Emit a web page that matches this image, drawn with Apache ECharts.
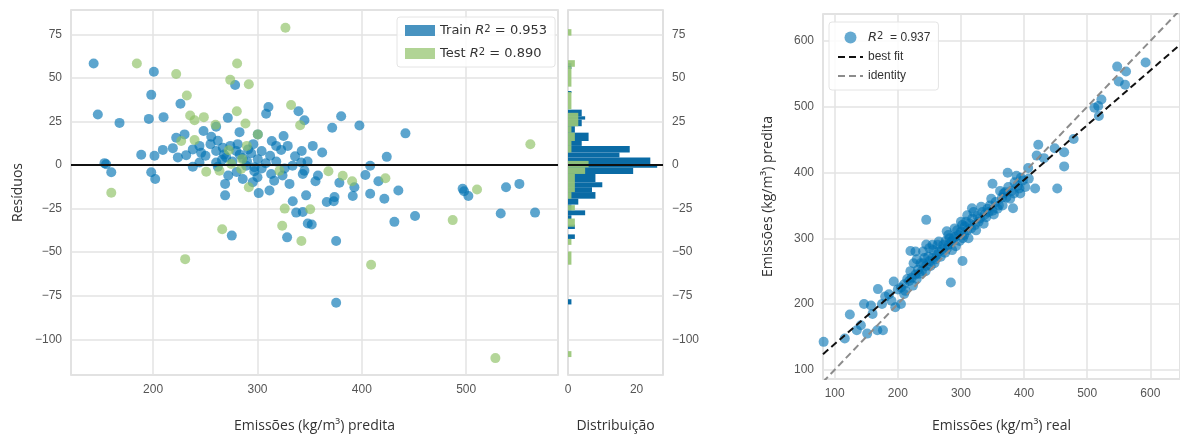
<!DOCTYPE html>
<html>
<head>
<meta charset="utf-8">
<script src="https://cdn.jsdelivr.net/npm/echarts@6/dist/echarts.min.js"></script>
<style>
  html, body { margin: 0; padding: 0; background: #fff; }
  #chart { width: 1180px; height: 438px; }
</style>
</head>
<body>
<div id="chart"></div>
<script>
// residuos (predito, residuo) - treino
const trainPoints = [
  [143, 58.3], [200.7, 53.6], [278.6, 46], [198.2, 40.3], [226.2, 35.2], [147, 29], [167.8, 24.2], [195.9, 26.5],
  [210, 27.5], [271.6, 27.1], [310.5, 33.3], [308.3, 29.5], [339.3, 30.9], [345, 25.7], [260.4, 22], [248.3, 19.5],
  [255.7, 16.3], [230.1, 17.6], [222.1, 15.7], [282.8, 18.9], [300.3, 17.6], [313.7, 13.8], [325, 16.7], [329, 11],
  [317.9, 11], [342.4, 8.1], [188.6, 5.9], [201.3, 5.3], [209.3, 8.7], [218.9, 9.7], [231.7, 5.7], [223.7, 4.4],
  [244.4, 11], [250.2, 5.3], [260.4, 8.1], [266.8, 10], [279.6, 8.1], [294, 6.8], [300.3, 3.4], [312.1, 5.3],
  [322.7, 8.7], [153.4, 1.1], [155, 0.5], [159.9, -4.1], [198.2, -4.1], [202, -8], [244.4, 1.5], [260.4, 1.5],
  [270, 4.4], [289.2, -0.4], [297.1, -1.3], [297, -3.5], [313.1, -5.1], [333.6, -0.4], [341.9, 1.5], [343.4, -5.1],
  [285.9, -8], [295.5, -9.8], [269, -10.8], [269, -17.4], [301.2, -16.1], [311.5, -14.6], [330.7, -10.8], [346.6, -17.4],
  [333.8, -20.8], [337.1, -27.3], [343.4, -26.9], [348.2, -33.5], [275.4, -40.5], [328.4, -41.5], [380.2, 28], [371.6, 21.4],
  [397.7, 22.7], [441.8, 18.2], [362, 7.2], [423.9, 4.7], [408, -0.4], [345, -3.2], [403.4, -5.7], [415.9, -9.3],
  [355.6, -9.3], [378.5, -10.2], [392.9, -12.7], [435, -14.6], [496.6, -13.6], [498, -15], [538.2, -12.7], [551, -10.8],
  [366.4, -21.2], [373.1, -20.8], [373.8, -18.4], [391.3, -17.8], [408, -16.5], [421.6, -19.3], [502.1, -17.8], [352, -34.1],
  [375.4, -43.6], [431.2, -32.6], [451, -29.2], [533.1, -27.8], [566, -27.3], [375.4, -79],
  [255, 12], [262, 14], [268, 6], [274, 11], [281, 12], [286, 4], [291, 9], [296, 12], [304, 8], [308, 1],
  [262, -1], [266, 3], [276, 2], [283, 6], [290, 2], [304, -2], [318, 2], [326, -2], [246, 7], [238, 9],
  [272, -6], [280, -4], [300, -7], [316, -9], [324, -6], [336, 5], [348, 2], [353, 11], [358, -6], [238, -1]
];

// residuos (predito, residuo) - teste
const testPoints = [
  [184.4, 58.3], [222.1, 52.3], [273.9, 48.9], [291.7, 46.4], [280.5, 58.3], [326.8, 78.8], [232.3, 39.9], [235.5, 28.4],
  [239.7, 25.7], [248.6, 27.5], [280.2, 30.9], [288.5, 23.9], [332.2, 34.5], [340.9, 22.9], [259.8, 23.1], [226.9, 13.8],
  [239.7, 14.4], [300.3, 17.6], [272.5, 8.5], [289.8, 11], [159.9, -15.9], [250.9, -3.8], [263.6, -3.2], [274.8, 0.6],
  [285.3, 3.4], [284.4, -2.3], [321.1, -3.2], [291.7, -12.7], [326.1, -25], [266.2, -36.8], [323.7, -34.8], [342.1, -43.6],
  [230.7, -54], [561.5, 11.9], [368, -3.6], [381.7, -6.1], [390.7, -9.3], [422.6, -7.6], [510.4, -14], [350.5, -25.4],
  [487.1, -31.6], [408.9, -57.2], [528, -110.8]
];

// histograma: [inicio, fim, contagem]
const trainHist = [
  [-80, -77, 1], [-42.4, -39.8, 2], [-36.7, -34.2, 2], [-31, -28.8, 1], [-28.8, -26, 5], [-26, -22.7, 1],
  [-22.7, -19.3, 3], [-19.3, -15.5, 8], [-15.5, -12.7, 7], [-12.7, -9.8, 10], [-9.8, -5.1, 8], [-5.1, -1.5, 19],
  [-1.5, 0.5, 26], [0.5, 4.4, 24], [4.4, 7.2, 15], [7.2, 11, 18], [11, 13.8, 4], [13.8, 18.6, 6],
  [18.6, 22.3, 2], [22.3, 26.1, 4], [26.1, 28, 5], [28, 31.8, 4], [41.3, 42.5, 1], [55.1, 58.5, 1]
];
const testHist = [
  [-110.2, -106.8, 1], [-57.2, -49.6, 1], [-45.8, -42.4, 1], [-35.4, -30.7, 2], [-26, -23, 2], [-19.3, -15.5, 1],
  [-15.5, -5.1, 2], [-5.1, -1.3, 5], [-1.3, 2.4, 6], [7.2, 11, 1], [11, 13.8, 1], [13.8, 18.6, 2],
  [18.6, 22.3, 1], [22.3, 30, 3], [32, 42, 1], [45, 56.4, 1], [56.4, 60.2, 2], [74.3, 78, 1]
];

// erro de predicao (real, predito)
const predPoints = [
  [592.5, 567.3], [547.5, 561], [561.5, 553.5], [550, 538.5], [560, 533.5], [511.5, 498.5], [522.5, 511], [517.5, 501],
  [518.5, 486], [478.5, 451], [422.5, 442.3], [448.5, 436.8], [463.5, 430.8], [420, 425.7], [431.5, 421.8], [406.5, 406.8],
  [463.5, 409.3], [374, 399.7], [417.5, 375.6], [452.5, 375.6], [350, 383], [392.5, 375.6], [367.5, 368], [407.5, 390.7],
  [317.5, 345.6], [382.5, 345.6], [82.5, 142.5], [116, 147.5], [124, 184.2], [141.5, 167.7], [146.5, 200], [157.5, 197.7],
  [151.5, 155], [167.5, 160], [176.5, 160], [168.5, 222.7], [180, 211.3], [193.5, 234.3], [196, 195.2], [205, 200],
  [210, 215.2], [220, 280.5], [245, 328], [245, 290.4], [284, 232.8], [277.5, 310.5], [302.5, 265.4],
  [200, 222], [210, 230], [215, 238], [222, 240], [228, 245], [232, 252], [238, 250], [240, 262], [245, 258],
  [250, 265], [255, 270], [258, 262], [262, 275], [265, 280], [270, 283], [275, 278], [280, 290], [285, 295],
  [288, 300], [292, 288], [296, 305], [300, 310], [303, 300], [306, 318], [310, 312], [314, 322], [318, 330],
  [322, 320], [326, 334], [330, 330], [334, 340], [338, 336], [342, 345], [346, 350], [350, 342], [355, 355],
  [360, 350], [365, 362], [370, 370], [375, 378], [380, 372], [385, 385], [390, 380], [395, 392], [300, 325],
  [310, 335], [290, 315], [280, 305], [265, 295], [250, 285], [225, 262], [228, 280],
  [205, 225], [212, 220], [218, 235], [220, 250], [224, 228], [230, 238], [234, 246], [236, 262], [242, 270],
  [244, 250], [248, 272], [252, 258], [256, 282], [260, 268], [263, 290], [268, 272], [272, 290], [276, 296],
  [278, 285], [282, 300], [286, 282], [290, 302], [294, 312], [298, 296], [302, 320], [305, 305], [308, 325],
  [312, 300], [316, 315], [320, 340], [324, 312], [328, 325], [332, 348], [336, 322], [340, 332], [344, 340],
  [348, 360], [352, 336], [358, 345], [362, 372], [366, 350], [372, 362], [378, 360], [384, 368], [388, 395],
  [394, 368], [398, 388], [402, 378], [186, 215], [190, 205], [175, 200], [160, 185], [135, 160], [230, 268],
  [240, 280], [255, 290]
];

// linha de melhor ajuste
const bestFit = { slope: 0.832, intercept: 56 };
const predXRange = [81.5, 647];
const predYRange = [86, 641];

const blue = 'rgba(0,114,178,0.8)';
const green = 'rgba(140,192,99,0.82)';
const gridColor = '#e3e3e3';
const tickFont = { color: '#555', fontSize: 12, fontFamily: 'Liberation Sans' };
const nameFont = { color: '#333', fontSize: 14, fontFamily: 'Open Sans' };
const minus = v => String(v).replace('-', '\u2212');

function histItem(color) {
  return function (params, api) {
    const lo = api.value(0), hi = api.value(1), c = api.value(2);
    const p0 = api.coord([0, hi]);
    const p1 = api.coord([c, lo]);
    return {
      type: 'rect',
      shape: { x: p0[0], y: p0[1], width: p1[0] - p0[0], height: p1[1] - p0[1] },
      style: { fill: color }
    };
  };
}

const zeroLine = {
  silent: true,
  symbol: 'none',
  label: { show: false },
  lineStyle: { color: '#111', width: 2, type: 'solid' },
  data: [{ yAxis: 0 }]
};

function valAxis(extra) {
  return Object.assign({
    type: 'value',
    axisLine: { show: false },
    axisTick: { show: false },
    splitLine: { show: true, lineStyle: { color: gridColor, width: 1.5 } },
    axisLabel: Object.assign({ showMinLabel: false, showMaxLabel: false, margin: 9, formatter: minus }, tickFont),
    nameTextStyle: nameFont,
    nameLocation: 'middle'
  }, extra);
}

const chart = echarts.init(document.getElementById('chart'), null, { renderer: 'canvas' });

const r2Rich = {
  i: { fontStyle: 'italic', fontSize: 13, fontFamily: 'DejaVu Sans', color: '#333' },
  s: { fontSize: 10, verticalAlign: 'top', color: '#333', fontFamily: 'DejaVu Sans' }
};
const noSymbol = { color: 'rgba(0,0,0,0)', borderColor: 'rgba(0,0,0,0)', borderWidth: 0 };

chart.setOption({
  backgroundColor: '#fff',
  animation: false,
  grid: [
    { left: 71, top: 10, width: 487, height: 368, show: true, borderColor: '#d6d6d6', borderWidth: 1.5, backgroundColor: '#fff' },
    { left: 568, top: 10, width: 95, height: 368, show: true, borderColor: '#d6d6d6', borderWidth: 1.5, backgroundColor: '#fff' },
    { left: 823, top: 14, width: 377, height: 369, show: true, borderColor: '#d6d6d6', borderWidth: 1.5, backgroundColor: '#fff' }
  ],
  xAxis: [
    valAxis({ gridIndex: 0, min: 121.3, max: 588, minInterval: 100, maxInterval: 100,
      name: 'Emissões (kg/m³) predita', nameGap: 44 }),
    valAxis({ gridIndex: 1, min: 0, max: 27.7, minInterval: 20, maxInterval: 20,
      splitLine: { show: false },
      axisLabel: Object.assign({ showMinLabel: true, showMaxLabel: false, margin: 9 }, tickFont),
      name: 'Distribuição', nameGap: 44 }),
    valAxis({ gridIndex: 2, min: predXRange[0], max: predXRange[1], minInterval: 100, maxInterval: 100,
      name: 'Emissões (kg/m³) real', nameGap: 40 })
  ],
  yAxis: [
    valAxis({ gridIndex: 0, min: -120.5, max: 89, minInterval: 25, maxInterval: 25,
      name: 'Resíduos', nameGap: 46 }),
    valAxis({ gridIndex: 1, min: -120.5, max: 89, minInterval: 25, maxInterval: 25, position: 'right' }),
    valAxis({ gridIndex: 2, min: predYRange[0], max: predYRange[1], minInterval: 100, maxInterval: 100,
      name: 'Emissões (kg/m³) predita', nameGap: 48 })
  ],
  legend: [
    {
      data: [
        { name: 'Train', itemStyle: { color: '#1a78b0' } },
        { name: 'Test', itemStyle: { color: '#9dc97a' } }
      ],
      left: 397, top: 17, orient: 'vertical',
      padding: [7, 8, 7, 8], itemGap: 10, itemWidth: 30, itemHeight: 11,
      icon: 'rect',
      backgroundColor: 'rgba(255,255,255,0.85)', borderColor: '#e4e4e4', borderWidth: 1, borderRadius: 3,
      textStyle: { fontSize: 13, color: '#333', fontFamily: 'DejaVu Sans', rich: r2Rich },
      formatter: function (n) {
        return n === 'Train' ? 'Train {i|R}{s|2} = 0.953' : 'Test {i|R}{s|2} = 0.890';
      }
    },
    {
      data: ['R2', 'best fit', 'identity'],
      left: 829, top: 22, orient: 'vertical',
      padding: [9, 8, 8, 8], itemGap: 7, itemWidth: 25, itemHeight: 12,
      backgroundColor: 'rgba(255,255,255,0.85)', borderColor: '#e4e4e4', borderWidth: 1, borderRadius: 3,
      textStyle: { fontSize: 12, color: '#333', fontFamily: 'Liberation Sans', rich: r2Rich },
      formatter: function (n) {
        return n === 'R2' ? '{i|R}{s|2}  = 0.937' : n;
      }
    }
  ],
  series: [
    {
      name: 'Train', type: 'scatter', xAxisIndex: 0, yAxisIndex: 0,
      data: trainPoints, symbolSize: 10,
      itemStyle: { color: blue },
      markLine: zeroLine
    },
    {
      name: 'Test', type: 'scatter', xAxisIndex: 0, yAxisIndex: 0,
      data: testPoints, symbolSize: 10,
      itemStyle: { color: green }
    },
    {
      name: 'Train', type: 'custom', xAxisIndex: 1, yAxisIndex: 1,
      data: trainHist, encode: { x: 2, y: [0, 1] },
      itemStyle: { color: '#0a6ba5' },
      renderItem: histItem('#0a6ba5')
    },
    {
      name: 'Test', type: 'custom', xAxisIndex: 1, yAxisIndex: 1,
      data: testHist, encode: { x: 2, y: [0, 1] },
      itemStyle: { color: '#98c577' },
      renderItem: histItem('rgba(152,197,119,0.92)'),
      markLine: zeroLine
    },
    {
      name: 'R2', type: 'scatter', xAxisIndex: 2, yAxisIndex: 2,
      data: predPoints, symbolSize: 10,
      itemStyle: { color: 'rgba(0,114,178,0.75)' }
    },
    {
      name: 'best fit', type: 'line', xAxisIndex: 2, yAxisIndex: 2,
      symbol: 'none', silent: true,
      data: predXRange.map(x => [x, bestFit.slope * x + bestFit.intercept]),
      itemStyle: noSymbol,
      lineStyle: { color: '#111', width: 2, type: [7, 4] }
    },
    {
      name: 'identity', type: 'line', xAxisIndex: 2, yAxisIndex: 2,
      symbol: 'none', silent: true,
      data: predXRange.map(x => [x, x]),
      itemStyle: noSymbol,
      lineStyle: { color: '#8c8c8c', width: 2, type: [7, 4] }
    }
  ]
});
</script>
</body>
</html>
